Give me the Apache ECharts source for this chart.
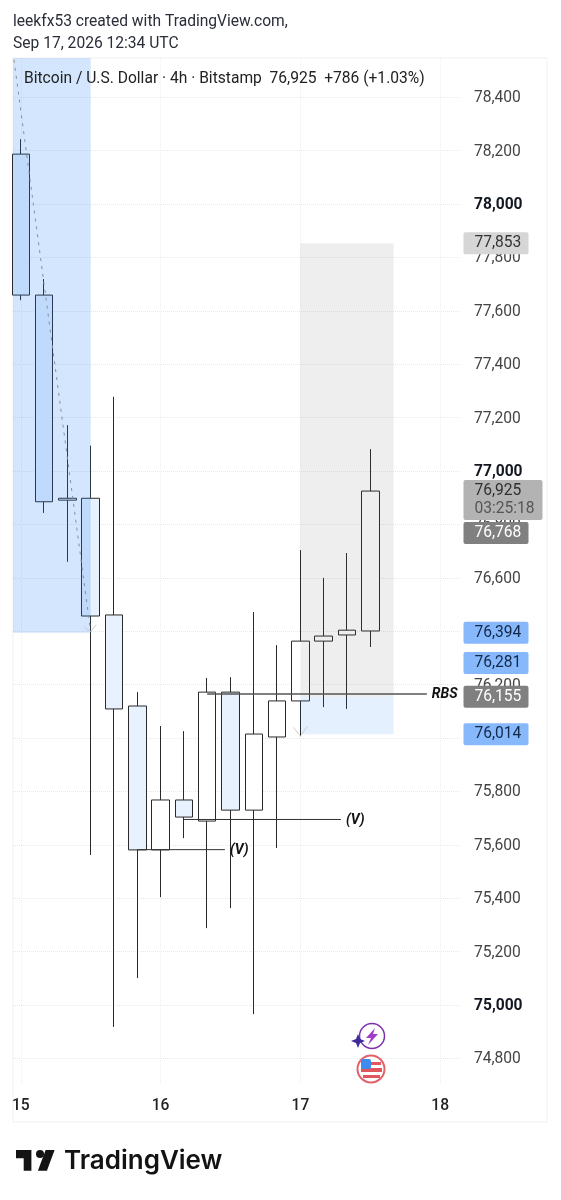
<!DOCTYPE html>
<html><head><meta charset="utf-8">
<style>html,body{margin:0;padding:0;background:#fff}#c{width:561px;height:1200px}</style>
<script src="https://cdn.jsdelivr.net/npm/echarts@6/dist/echarts.min.js"></script>
</head><body><div id="c"></div>
<script>
const barDays = [15,15.167,15.333,15.5,15.667,15.833,16,16.167,16.333,16.5,16.667,16.833,17,17.167,17.333,17.5];
const opens  = [78187,77659,76891,76898,76461,76120,75581,75768,75689,76172,75730,76004,76139,76363,76386,76401];
const closes = [77659,76885,76898,76457,76109,75581,75768,75704,76172,75730,76015,76139,76363,76382,76404,76925];
const lows   = [77640,76843,76660,75562,74918,75101,75404,75625,75288,75363,74966,75588,76007,76116,76109,76341];
const highs  = [78243,77719,77172,77095,77278,76172,76045,76026,76225,76228,76472,76348,76704,76600,76693,77082];

const dayTicks = [15,16,17,18];
const priceTicks = [74800,75000,75200,75400,75600,75800,76000,76200,76400,76600,76800,77000,77200,77400,77600,77800,78000,78200,78400];
const boldPrices = [75000,77000,78000];

const blueZone = [14.944,78547,15.5,76394];
const greyZone = [17,77853,17.667,76155];
const paleZone = [17,76155,17.667,76014];

const trendLine = [[14.951,78540],[15.5,76398]];
const trendHeadA = [[15.455,76415],[15.5,76398],[15.54,76425]];
const trendHeadB = [[16.95,76040],[17,76007],[17.05,76045]];
const rbsLine = [[16.333,76165],[17.905,76165]];
const vLineLow = [[15.833,75582],[16.46,75582]];
const vLineHigh = [[16.167,75695],[17.29,75695]];

const tagPrices = [77853,76925,76768,76394,76281,76155,76014];
const tagTexts = ['77,853','76,925','76,768','76,394','76,281','76,155','76,014'];
const tagCountdown = '03:25:18';

const xMin = 14.944, xMax = 18.142, yMin = 74708, yMax = 78547;
const FONT = 'Roboto, sans-serif';

function zoneSeries(name, zone, color) {
  return {
    name, type: 'custom', z: 5, silent: true, clip: true,
    data: [zone], encode: {x:[0,2], y:[1,3]},
    renderItem(p, api) {
      const a = api.coord([api.value(0), api.value(1)]);
      const b = api.coord([api.value(2), api.value(3)]);
      return {type:'rect', shape:{x:a[0], y:a[1], width:b[0]-a[0], height:b[1]-a[1]}, style:{fill:color}};
    }
  };
}
function lineSeries(name, data, color, width, type, endText) {
  const s = {
    name, type:'line', z:6, silent:true, symbol:'none', data, clip:false,
    lineStyle:{color, width, type: type||'solid'}
  };
  if (endText) {
    s.endLabel = {show:true, formatter:endText, distance:5, color:'#111', offset:[0,1],
      fontFamily:FONT, fontStyle:'italic', fontWeight:700, fontSize:14};
  }
  return s;
}
const tagStyles = {
  '77,853':{bg:'#d6d6d6', fg:'#333'},
  '76,768':{bg:'#808080', fg:'#fff'},
  '76,394':{bg:'#86b8fb', fg:'#132a4a'},
  '76,281':{bg:'#86b8fb', fg:'#132a4a'},
  '76,155':{bg:'#808080', fg:'#fff'},
  '76,014':{bg:'#86b8fb', fg:'#132a4a'}
};
const tagData = tagPrices.map((p,i)=>{
  const t = tagTexts[i], st = tagStyles[t];
  if (!st) return {value:[xMax,p], label:{
    formatter:'{a|'+t+'}\n{b|'+tagCountdown+'}',
    backgroundColor:'#b3b3b3', width:68, height:36, padding:[2,0,2,11], offset:[0,9],
    rich:{a:{fontFamily:FONT,fontSize:15.6,color:'#2f2f2f',height:18,lineHeight:18},
          b:{fontFamily:FONT,fontSize:15.6,color:'#565656',height:18,lineHeight:18}}
  }};
  return {value:[xMax,p], label:{formatter:t, backgroundColor:st.bg, color:st.fg}};
});

const chart = echarts.init(document.getElementById('c'), null, {renderer:'canvas'});
chart.setOption({
  animation:false,
  backgroundColor:'#fff',
  title:[
    {text:'leekfx53 created with TradingView.com,', left:13, top:14, padding:0, textStyle:{fontFamily:FONT,fontSize:15.6,fontWeight:400,color:'#2a2e39'}},
    {text:'Sep 17, 2026 12:34 UTC', left:13, top:36, padding:0, textStyle:{fontFamily:FONT,fontSize:15.6,fontWeight:400,color:'#2a2e39'}},
    {text:'Bitcoin / U.S. Dollar · 4h · Bitstamp  76,925  +786 (+1.03%)', left:24, top:71, padding:0, z:20, textStyle:{fontFamily:FONT,fontSize:15.6,fontWeight:400,color:'#222'}}
  ],
  grid:{left:13, top:58, width:447, height:1025, containLabel:false},
  xAxis:{type:'value', min:xMin, max:xMax,
    axisLine:{show:false},
    axisTick:{show:false, customValues:dayTicks},
    axisLabel:{customValues:dayTicks, margin:15, fontFamily:FONT, fontSize:15.6, fontWeight:500, color:'#222'},
    splitLine:{show:true, lineStyle:{color:'#eceef1', type:'dotted', width:1}}
  },
  yAxis:{type:'value', position:'right', min:yMin, max:yMax, scale:true,
    axisLine:{show:false},
    axisTick:{show:false, customValues:priceTicks},
    axisLabel:{customValues:priceTicks, margin:14, align:'left', padding:[2,0,0,0],
      formatter:v=>{const s=Math.round(v).toLocaleString('en-US');return boldPrices.includes(Math.round(v))?'{b|'+s+'}':'{n|'+s+'}';},
      rich:{b:{fontFamily:FONT,fontSize:15.6,fontWeight:700,color:'#131722'},n:{fontFamily:FONT,fontSize:15.6,color:'#444'}}},
    splitLine:{show:true, lineStyle:{color:'#e6e8ec', type:'dotted', width:1}}
  },
  series:[
    {name:'BTCUSD', type:'candlestick', z:2, clip:true, silent:true, barWidth:18,
     encode:{x:0,y:[1,2,3,4]},
     data:barDays.map((d,i)=>[d,opens[i],closes[i],lows[i],highs[i]]),
     itemStyle:{color:'#ffffff', color0:'#e8f1fe', borderColor:'#2a2a2a', borderColor0:'#2a2a2a', borderWidth:1}},
    zoneSeries('Blue zone', blueZone, 'rgba(33,130,243,0.2)'),
    zoneSeries('Grey zone', greyZone, 'rgba(90,90,90,0.10)'),
    zoneSeries('Pale zone', paleZone, 'rgba(33,130,243,0.12)'),
    lineSeries('Trend', trendLine, '#8a8f9c', 1, [3,5]),
    lineSeries('Head A', trendHeadA, '#c4c4c4', 0.8),
    lineSeries('Head B', trendHeadB, '#c4c4c4', 0.8),
    lineSeries('RBS', rbsLine, '#555', 1.3, 'solid', 'RBS'),
    lineSeries('V low', vLineLow, '#333', 1, 'solid', '(V)'),
    lineSeries('V high', vLineHigh, '#333', 1, 'solid', '(V)'),
    {name:'Price tags', type:'scatter', z:10, silent:true, clip:false, symbolSize:1,
     itemStyle:{color:'rgba(0,0,0,0)', opacity:1}, data:tagData,
     label:{show:true, opacity:1, position:'right', distance:3, width:54, height:22, lineHeight:22, padding:[0,0,0,11],
       align:'left', verticalAlign:'middle', borderRadius:2, fontFamily:FONT, fontSize:15.6}}
  ],
  graphic:[
    {type:'rect', z:-1, silent:true, shape:{x:13,y:58,width:534,height:1064}, style:{fill:'none',stroke:'#f1f1f3',lineWidth:1}},
    {type:'polygon', silent:true, z:30, shape:{points:[[16,1150],[31.4,1150],[31.4,1170.7],[23.7,1170.7],[23.7,1158.3],[16,1158.3]]}, style:{fill:'#131313'}},
    {type:'polygon', silent:true, z:30, shape:{points:[[46.9,1170.7],[37.9,1170.7],[45.6,1150],[54.6,1150]]}, style:{fill:'#131313'}},
    {type:'circle', silent:true, z:30, shape:{cx:40,cy:1154,r:4}, style:{fill:'#131313'}},
    {type:'text', silent:true, z:30, x:64, y:1148, style:{text:'TradingView', font:'600 26px Inter, sans-serif', fill:'#131313'}},
    {type:'circle', silent:true, z:30, shape:{cx:372,cy:1036,r:12.5}, style:{fill:'#fff',stroke:'#7b2fb0',lineWidth:1.5}},
    {type:'polygon', silent:true, z:31, shape:{points:[[375,1028],[366,1038],[371,1038],[368,1045],[378,1034],[373,1034]]}, style:{fill:'#a03cc8'}},
    {type:'polygon', silent:true, z:31, shape:{points:[[358,1034],[360,1039],[365,1041],[360,1043],[358,1048],[356,1043],[351,1041],[356,1039]]}, style:{fill:'#3d2a9c'}},
    {type:'circle', silent:true, z:30, shape:{cx:371,cy:1069,r:13.5}, style:{fill:'#fff',stroke:'#e2606a',lineWidth:2}},
    {type:'rect', silent:true, z:31, shape:{x:361,y:1068,width:21,height:4}, style:{fill:'#e2555c'}},
    {type:'rect', silent:true, z:31, shape:{x:363,y:1075,width:17,height:3}, style:{fill:'#e2555c'}},
    {type:'rect', silent:true, z:31, shape:{x:371,y:1062,width:10,height:3}, style:{fill:'#e2555c'}},
    {type:'rect', silent:true, z:32, shape:{x:361,y:1059,width:10,height:10,r:2}, style:{fill:'#3f8cf0'}}
  ]
});
</script></body></html>
